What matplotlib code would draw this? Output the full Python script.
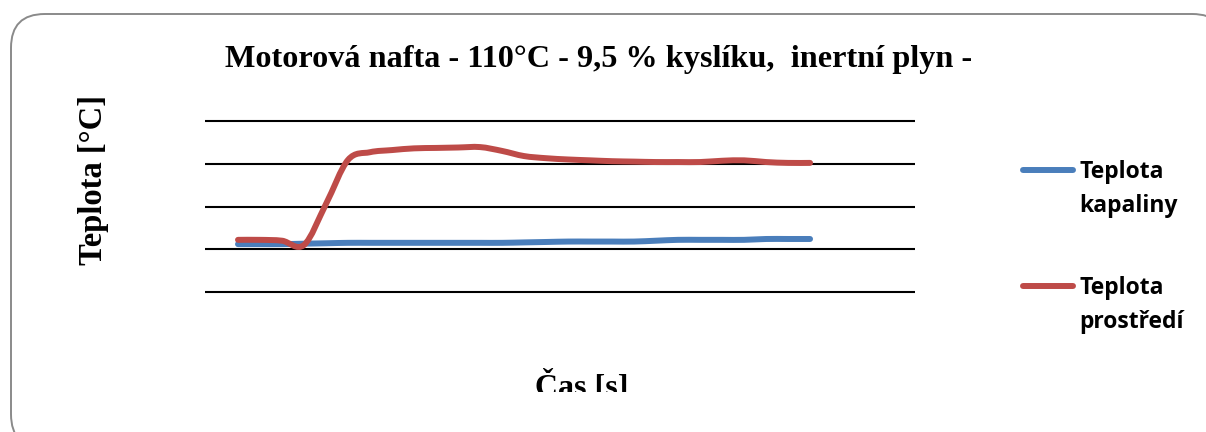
import matplotlib
matplotlib.use("Agg")
import matplotlib.pyplot as plt
from matplotlib.path import Path
from matplotlib.patches import PathPatch, FancyBboxPatch, Rectangle
from matplotlib.lines import Line2D
import numpy as np

# Time axis [s] and measured temperatures [°C]
time_s = [0, 10, 20, 30, 40, 50, 60, 70, 80, 90, 100, 110, 120, 130,
          140, 150, 160, 170, 180, 190, 200, 210, 220, 230, 240, 250, 260]
teplota_kapaliny = [112, 112, 112, 113, 114, 115, 115, 115, 115, 115, 115, 115, 115, 116,
                    117, 118, 118, 118, 118, 120, 122, 122, 122, 122, 124, 124, 124]
teplota_prostredi = [122, 122, 120, 110, 206, 309, 327, 332, 336, 337, 338, 339, 330, 318,
                     313, 310, 308, 306, 305, 304, 304, 304, 307, 308, 304, 302, 302]
y_grid = [0, 100, 200, 300, 400]

title = "Motorová nafta - 110°C - 9,5 % kyslíku,  inertní plyn -"
legend_labels = [("Teplota", "kapaliny"), ("Teplota", "prostředí")]
colors = ["#4A7EBB", "#BE4B48"]

W, H = 1206, 432
fig = plt.figure(figsize=(W / 100, H / 100), dpi=100)


def fx(px):
    return px / W


def fy(py):
    return (H - py) / H


# Rounded chart frame
frame = FancyBboxPatch((fx(11), fy(448)), fx(1226) - fx(11), fy(14) - fy(448),
                       boxstyle="round,pad=0,rounding_size=0.028",
                       transform=fig.transFigure, facecolor="white",
                       edgecolor="#8a8a8a", linewidth=1.4, mutation_aspect=W / H,
                       zorder=-10)
fig.patches.append(frame)

# Plot area
ypad = 10
px_per_unit = 171 / 400
ax = fig.add_axes([fx(205), fy(292 + ypad * px_per_unit),
                   fx(915) - fx(205),
                   (171 + 2 * ypad * px_per_unit) / H])
ax.set_zorder(2)
ax.set_xlim(-15, 307.7)
ax.set_ylim(-ypad, 400 + ypad)
ax.set_yticks(y_grid)
ax.set_xticks([])
ax.tick_params(left=False, labelleft=False)
for s in ax.spines.values():
    s.set_visible(False)
ax.set_facecolor("none")
ax.yaxis.grid(True, color="black", linewidth=1.5)
ax.set_axisbelow(True)


def smooth_path(x, y):
    # Catmull-Rom style cubic Bezier through every data point
    x = np.asarray(x, float)
    y = np.asarray(y, float)
    pts = np.column_stack([x, y])
    n = len(pts)
    verts = [pts[0]]
    codes = [Path.MOVETO]
    for i in range(n - 1):
        p0 = pts[i - 1] if i > 0 else pts[i]
        p1 = pts[i]
        p2 = pts[i + 1]
        p3 = pts[i + 2] if i + 2 < n else pts[i + 1]
        c1 = p1 + (p2 - p0) / 6.0
        c2 = p2 - (p3 - p1) / 6.0
        verts += [c1, c2, p2]
        codes += [Path.CURVE4] * 3
    return Path(verts, codes)


for series, c in zip([teplota_kapaliny, teplota_prostredi], colors):
    patch = PathPatch(smooth_path(time_s, series), facecolor="none", edgecolor=c,
                      linewidth=4.3, capstyle="round", joinstyle="round", zorder=3)
    ax.add_patch(patch)

# Titles
serif = ["Liberation Serif", "DejaVu Serif"]
fig.text(fx(599), fy(66.7), title, ha="center", va="baseline",
         fontsize=23.2, fontweight="bold", family=serif)
fig.text(fx(101.7), fy(180), "Teplota [°C]", ha="center", va="baseline",
         rotation=90, rotation_mode="anchor",
         fontsize=23.5, fontweight="bold", family=serif)
xl = fig.text(fx(582), fy(395), "Čas [s]", ha="center", va="baseline",
              fontsize=23, fontweight="bold", family=serif)
clip = Rectangle((0, fy(392)), 1, 1 - fy(392), transform=fig.transFigure,
                 visible=False)
fig.patches.append(clip)
xl.set_clip_path(clip)
xl.set_clip_on(True)

# Legend
sans = ["Open Sans", "DejaVu Sans"]
leg_y = [170, 286]
for (l1, l2), c, yl in zip(legend_labels, colors, leg_y):
    fig.add_artist(Line2D([fx(1023), fx(1073)], [fy(yl), fy(yl)],
                          transform=fig.transFigure, color=c,
                          linewidth=4.3, solid_capstyle="round"))
    fig.text(fx(1079), fy(yl + 8.3), l1, ha="left", va="baseline",
             fontsize=16.5, fontweight="bold", family=sans)
    fig.text(fx(1079), fy(yl + 41.7), l2, ha="left", va="baseline",
             fontsize=16.5, fontweight="bold", family=sans)

fig.savefig("out.png", dpi=100)
